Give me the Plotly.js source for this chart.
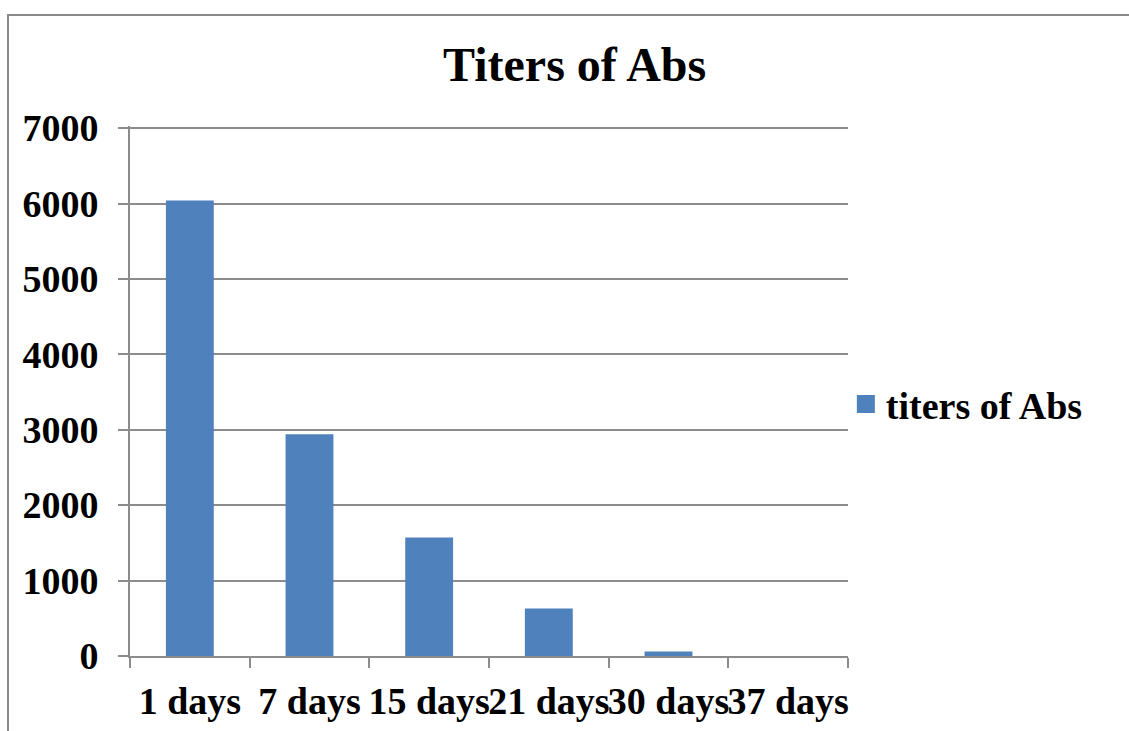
<!DOCTYPE html>
<html>
<head>
<meta charset="utf-8">
<script src="https://cdn.plot.ly/plotly-3.0.1.min.js"></script>
<style>
  html, body { margin: 0; padding: 0; background: #fff; }
  #frame {
    position: absolute; left: 0; top: 0; width: 1129px; height: 731px; overflow: hidden;
  }
  #border {
    position: absolute; left: 7px; top: 14px; width: 1200px; height: 800px;
    border-left: 2px solid #8a8a8a; border-top: 2px solid #8a8a8a;
  }
  #chart { position: absolute; left: 0; top: 0; width: 1129px; height: 731px; }
</style>
</head>
<body>
<div id="frame">
  <div id="border"></div>
  <div id="chart"></div>
</div>
<script>
// Antibody titers measured over time after immunisation
const categories = ['1 days', '7 days', '15 days', '21 days', '30 days', '37 days'];
const titers = [6040, 2940, 1570, 630, 60, 0];
const seriesName = 'titers of Abs';
const yTicks = [0, 1000, 2000, 3000, 4000, 5000, 6000, 7000];

const font = 'Liberation Serif, Times New Roman, serif';
const gridGray = '#8c8c8c';
const labelSize = 38;

const trace = {
  type: 'bar',
  x: categories,
  y: titers,
  name: '<b>' + seriesName + '</b>',
  marker: { color: '#4f81bd', line: { width: 0 } },
  showlegend: true
};

const layout = {
  width: 1129,
  height: 731,
  paper_bgcolor: 'rgba(0,0,0,0)',
  plot_bgcolor: 'rgba(0,0,0,0)',
  margin: { l: 130, r: 281, t: 126, b: 75, pad: 0 },
  bargap: 0.6,
  font: { family: font, color: '#000', size: labelSize },
  title: {
    text: '<b>Titers of Abs</b>',
    font: { family: font, size: 48, color: '#000' },
    xref: 'container', x: 0.509, xanchor: 'center',
    yref: 'container', y: 0.912, yanchor: 'middle'
  },
  xaxis: {
    type: 'category',
    tickmode: 'array',
    tickvals: categories,
    ticktext: categories.map(c => '<b>' + c + '</b>'),
    tickangle: 0,
    ticks: 'outside', ticklen: 10, tickwidth: 2, tickcolor: gridGray,
    tickson: 'boundaries',
    showline: true, linecolor: gridGray, linewidth: 2,
    showgrid: false, zeroline: false,
    tickfont: { family: font, size: labelSize, color: '#000' },
    ticklabelstandoff: 10,
    fixedrange: true
  },
  yaxis: {
    // a little headroom so the 7000 gridline is drawn inside the plot area
    range: [0, 7028],
    tickmode: 'array',
    tickvals: yTicks,
    ticktext: yTicks.map(v => '<b>' + v + '</b>'),
    ticks: 'outside', ticklen: 10, tickwidth: 2, tickcolor: gridGray,
    showline: true, linecolor: gridGray, linewidth: 2,
    showgrid: true, gridcolor: gridGray, gridwidth: 2,
    zeroline: false,
    tickfont: { family: font, size: labelSize, color: '#000' },
    ticklabelstandoff: 12,
    fixedrange: true
  },
  legend: {
    x: 0.997, xanchor: 'left',
    y: 0.475, yanchor: 'middle',
    font: { family: font, size: labelSize, color: '#000' },
    bgcolor: 'rgba(0,0,0,0)'
  },
  showlegend: true
};

Plotly.newPlot('chart', [trace], layout, { displayModeBar: false, staticPlot: true }).then(gd => {
  // enlarge the legend swatch a little, keeping its own placement
  gd.querySelectorAll('.legendpoints path').forEach(p => {
    const t = p.getAttribute('transform') || '';
    p.setAttribute('transform', t + ' scale(1.5)');
  });
});
</script>
</body>
</html>
